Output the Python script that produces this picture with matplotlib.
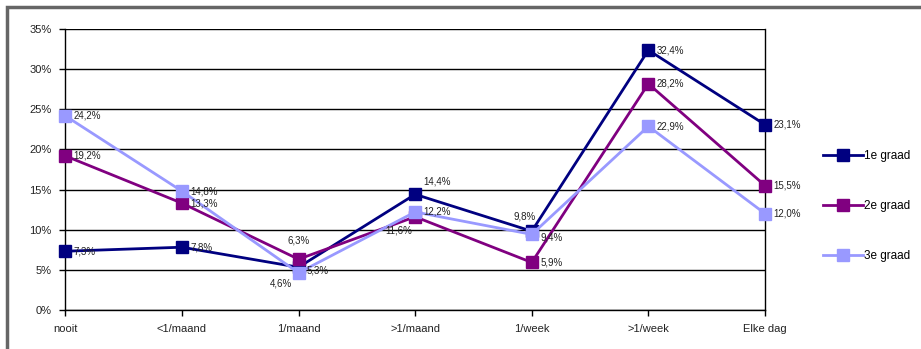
import matplotlib
matplotlib.use('Agg')
import matplotlib.pyplot as plt
from matplotlib.patches import Rectangle

plt.rcParams['font.family'] = ['Liberation Sans', 'DejaVu Sans']

categories = ['nooit', '<1/maand', '1/maand', '>1/maand', '1/week', '>1/week', 'Elke dag']
graad1 = [7.3, 7.8, 5.3, 14.4, 9.8, 32.4, 23.1]
graad2 = [19.2, 13.3, 6.3, 11.6, 5.9, 28.2, 15.5]
graad3 = [24.2, 14.8, 4.6, 12.2, 9.4, 22.9, 12.0]
names = ['1e graad', '2e graad', '3e graad']
colors = ['#000080', '#800080', '#9999ff']

# label offsets in points (dx, dy, ha, va) per series/point
right = (6, 0, 'left', 'center')
offsets = [
    [right, right, (6, -2, 'left', 'center'), (6, 6, 'left', 'bottom'), (3, 7, 'right', 'bottom'), right, right],
    [right, right, (0, 10, 'center', 'bottom'), (-2, -6, 'right', 'top'), right, right, right],
    [right, right, (-5, -4, 'right', 'top'), right, (6, -2, 'left', 'center'), right, right],
]

fig = plt.figure(figsize=(9.21, 3.49), dpi=100)
ax = fig.add_axes([0.0709, 0.1126, 0.7597, 0.8034])

x = list(range(len(categories)))
for name, vals, col in zip(names, [graad1, graad2, graad3], colors):
    ax.plot(x, vals, color=col, lw=2, marker='s', ms=8, label=name, zorder=3, clip_on=False)
for vals, offs in zip([graad1, graad2, graad3], offsets):
    for xi, v, (dx, dy, ha, va) in zip(x, vals, offs):
        ax.annotate(('%.1f%%' % v).replace('.', ','), (xi, v), xytext=(dx, dy),
                    textcoords='offset points', ha=ha, va=va, fontsize=7, color='#222222', zorder=4)

ax.set_xlim(0, 6)
ax.set_ylim(0, 35)
ax.set_xticks(x)
ax.set_xticklabels(categories, fontsize=8)
ax.set_yticks(range(0, 36, 5))
ax.set_yticklabels(['%d%%' % t for t in range(0, 36, 5)], fontsize=8)
ax.tick_params(length=4, width=1, color='black', pad=6, labelcolor='#222222')
ax.yaxis.grid(True, color='black', lw=1)
ax.set_axisbelow(True)
for s in ax.spines.values():
    s.set_linewidth(1)
ax.spines['top'].set_visible(False)

leg = fig.legend(loc='center left', bbox_to_anchor=(0.882, 0.41), frameon=False,
                 fontsize=8.5, labelspacing=3.2, handlelength=3.4, handletextpad=0.05)

fig.patches.append(Rectangle((7 / 921, -0.1), 1.2, 1 - 7.5 / 349 + 0.1, transform=fig.transFigure,
                             fill=False, edgecolor='#666666', lw=2.5))

fig.savefig('out.png', dpi=100)
